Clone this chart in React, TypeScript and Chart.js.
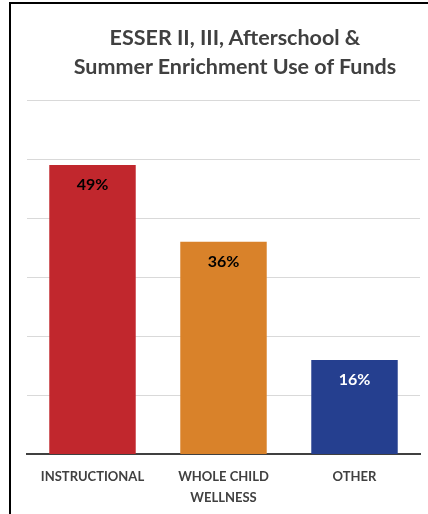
import React, { useEffect, useRef } from "react";
import { Chart, registerables } from "chart.js";

Chart.register(...registerables);

const categories: (string | string[])[] = ["INSTRUCTIONAL", ["WHOLE CHILD", "WELLNESS"], "OTHER"];
const values = [49, 36, 16];
const valueLabels = ["49%", "36%", "16%"];
const barColors = ["#C1272D", "#D9822A", "#253F8F"];
const labelColors = ["#000000", "#000000", "#FFFFFF"];
const titleLines = ["ESSER II, III, Afterschool &", "Summer Enrichment Use of Funds"];

const FONT = "Lato, 'Open Sans', sans-serif";

const labelPlugin = {
  id: "barLabels",
  afterDatasetsDraw(chart: any) {
    const meta = chart.getDatasetMeta(0);
    const ctx = chart.ctx;
    ctx.save();
    ctx.font = `bold 16px ${FONT}`;
    ctx.textAlign = "center";
    ctx.textBaseline = "middle";
    meta.data.forEach((bar: any, i: number) => {
      ctx.fillStyle = labelColors[i];
      ctx.fillText(valueLabels[i], bar.x, bar.y + 20);
    });
    ctx.restore();
  },
};

export default function App() {
  const ref = useRef<HTMLCanvasElement>(null);
  useEffect(() => {
    if (!ref.current) return;
    const chart = new Chart(ref.current, {
      type: "bar",
      data: {
        labels: categories,
        datasets: [
          {
            data: values,
            backgroundColor: barColors,
            barPercentage: 0.66,
            categoryPercentage: 1,
          },
        ],
      },
      options: {
        animation: false,
        responsive: false,
        maintainAspectRatio: false,
        layout: { padding: { top: 100, left: 27, right: 8, bottom: 2 } },
        plugins: {
          legend: { display: false },
          tooltip: { enabled: false },
          title: { display: false },
        },
        scales: {
          x: {
            grid: { display: false },
            border: { display: true, color: "#404040", width: 2 },
            ticks: {
              color: "#404040",
              font: { family: FONT, size: 13, weight: "bold", lineHeight: 1.6 },
              padding: 4,
              maxRotation: 0,
            },
          },
          y: {
            min: 0,
            max: 60,
            ticks: { display: false, stepSize: 10 },
            border: { display: false },
            grid: { color: "#D9D9D9", lineWidth: 1, drawTicks: false },
          },
        },
      },
      plugins: [labelPlugin],
    });
    return () => chart.destroy();
  }, []);

  return (
    <div style={{ position: "absolute", left: 0, top: 0, width: 428, height: 514, background: "#fff", overflow: "hidden" }}>
      <div style={{ position: "absolute", left: 9, top: 2, width: 2, height: 512, background: "#000" }} />
      <div style={{ position: "absolute", left: 9, top: 2, width: 419, height: 2, background: "#000" }} />
      <canvas ref={ref} width={428} height={514} style={{ position: "absolute", left: 0, top: 0 }} />
      <div
        style={{
          position: "absolute",
          left: 35,
          width: 400,
          top: 23,
          textAlign: "center",
          fontFamily: FONT,
          fontWeight: "bold",
          fontSize: 21.5,
          lineHeight: "29px",
          color: "#404040",
        }}
      >
        {titleLines.map((t, i) => (
          <div key={i}>{t}</div>
        ))}
      </div>
    </div>
  );
}
